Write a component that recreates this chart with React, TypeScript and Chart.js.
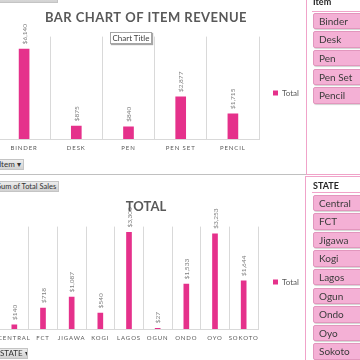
import React, { useEffect, useRef } from "react";
import { Chart, registerables } from "chart.js";

Chart.register(...registerables);

// ---------- data ----------
const itemCategories = ["BINDER", "DESK", "PEN", "PEN SET", "PENCIL"];
const itemRevenue = [6140, 875, 840, 2877, 1715];
const itemAxisMax = 7000;

const stateCategories = ["CENTRAL", "FCT", "JIGAWA", "KOGI", "LAGOS", "OGUN", "ONDO", "OYO", "SOKOTO"];
const stateTotals = [140, 718, 1087, 540, 3300, 27, 1533, 3253, 1644];
const stateAxisMax = 3500;

const itemSlicerItems = ["Binder", "Desk", "Pen", "Pen Set", "Pencil"];
const stateSlicerItems = ["Central", "FCT", "Jigawa", "Kogi", "Lagos", "Ogun", "Ondo", "Oyo", "Sokoto"];

const seriesName = "Total";
const topTitle = "BAR CHART OF ITEM REVENUE";
const bottomTitle = "TOTAL";

// ---------- styles ----------
const BAR = "#e5318b";
const GRID = "#d9d9d9";
const TEXT = "#595959";
const FONT = "Lato, 'Open Sans', sans-serif";

const valueLabels = {
  id: "valueLabels",
  beforeDraw(chart: any) {
    const ctx = chart.ctx;
    const meta = chart.getDatasetMeta(0);
    const vals = chart.data.datasets[0].data as number[];
    ctx.save();
    ctx.font = `6.5px ${FONT}`;
    ctx.fillStyle = "#7f7f7f";
    ctx.textAlign = "left";
    ctx.textBaseline = "middle";
    meta.data.forEach((el: any, i: number) => {
      ctx.save();
      ctx.translate(el.x + 0.5, el.y - 5);
      ctx.rotate(-Math.PI / 2);
      ctx.fillText("$" + vals[i].toLocaleString("en-US"), 0, 0);
      ctx.restore();
    });
    ctx.restore();
  },
};

type Cfg = {
  labels: string[];
  values: number[];
  max: number;
  title: string;
  titleSize: number;
  titleSpacing: string;
  titleCenter: number;
  titlePad: { top: number; bottom: number };
  padLeft: number;
  areaRight: number;
  legendPad: number;
  axisHeight: number;
  barThickness: number;
  tickSpacing: string;
};

function useBarChart(ref: React.RefObject<HTMLCanvasElement | null>, cfg: Cfg) {
  useEffect(() => {
    if (!ref.current) return;
    const chart = new Chart(ref.current, {
      type: "bar",
      data: {
        labels: cfg.labels,
        datasets: [
          {
            label: seriesName,
            data: cfg.values,
            backgroundColor: BAR,
            barThickness: cfg.barThickness,
          },
        ],
      },
      options: {
        responsive: false,
        animation: false,
        layout: { padding: { left: cfg.padLeft, right: 0, top: 0, bottom: 0 } },
        plugins: {
          title: {
            display: true,
            text: cfg.title,
            color: TEXT,
            font: { family: FONT, size: cfg.titleSize, weight: "bold" },
            padding: cfg.titlePad,
          },
          legend: {
            position: "right",
            labels: {
              boxWidth: 5,
              boxHeight: 5,
              padding: cfg.legendPad,
              color: TEXT,
              font: { family: FONT, size: 8 },
            },
          },
          tooltip: { enabled: false },
        },
        scales: {
          x: {
            grid: { color: GRID, drawTicks: false, offset: true },
            border: { color: GRID },
            ticks: {
              color: TEXT,
              font: { family: FONT, size: 6 },
              padding: 5,
              autoSkip: false,
              maxRotation: 0,
            },
            afterFit: (s: any) => {
              s.height = cfg.axisHeight;
            },
          },
          y: { display: false, min: 0, max: cfg.max },
        },
      },
      plugins: [valueLabels],
    } as any);

    // fit the plot area's right edge by the legend's measured width
    const extra = chart.chartArea.right - cfg.areaRight;
    (chart.options as any).layout.padding = { left: cfg.padLeft, right: Math.max(0, extra), top: 0, bottom: 0 };
    chart.update();

    const xs: any = chart.scales.x;
    const origLabels = xs.drawLabels.bind(xs);
    xs.drawLabels = (area: any) => {
      const c: any = chart.ctx;
      const prev = c.letterSpacing;
      c.letterSpacing = cfg.tickSpacing;
      origLabels(area);
      c.letterSpacing = prev;
    };
    const tb: any = (chart as any).titleBlock;
    if (tb) {
      const origT = tb.draw.bind(tb);
      tb.draw = (area: any) => {
        const c: any = chart.ctx;
        const prev = c.letterSpacing;
        c.save();
        c.letterSpacing = cfg.titleSpacing;
        c.translate(cfg.titleCenter - (tb.left + tb.right) / 2, 0);
        origT(area);
        c.restore();
        c.letterSpacing = prev;
      };
    }
    chart.draw();
    return () => chart.destroy();
  }, []);
}

const btnStyle: React.CSSProperties = {
  position: "absolute",
  background: "linear-gradient(#ececec, #d2d2d2)",
  border: "1px solid #c4c4c4",
  fontFamily: FONT,
  fontSize: 8,
  color: "#333",
  lineHeight: "9px",
  whiteSpace: "nowrap",
  overflow: "hidden",
  boxSizing: "border-box",
};

function Slicer(props: { left: number; top: number; height: number; header: string; headerTop: number; lineTop: number; btnTop: number; items: string[] }) {
  return (
    <>
      <div
        style={{
          position: "absolute",
          left: props.left,
          top: props.top,
          width: 70,
          height: props.height,
          border: "1.5px solid #f0a3c9",
          boxSizing: "border-box",
          background: "#fff",
        }}
      />
      <div
        style={{
          position: "absolute",
          left: 313,
          top: props.headerTop,
          fontFamily: FONT,
          fontWeight: "bold",
          fontSize: 9,
          color: "#262626",
          lineHeight: "11px",
        }}
      >
        {props.header}
      </div>
      <div style={{ position: "absolute", left: 312, top: props.lineTop, width: 60, height: 1, background: "#f0a3c9" }} />
      {props.items.map((t, i) => (
        <div
          key={t}
          style={{
            position: "absolute",
            left: 313,
            top: props.btnTop + i * 18.6,
            width: 60,
            height: 16.5,
            background: "#f4b0d5",
            border: "1px solid #e296bd",
            borderRadius: 2,
            boxShadow: "1px 1px 1px rgba(0,0,0,0.18)",
            boxSizing: "border-box",
            fontFamily: FONT,
            fontSize: 10,
            color: "#3b3b3b",
            lineHeight: "14px",
            paddingLeft: 5,
          }}
        >
          {t}
        </div>
      ))}
    </>
  );
}

export default function App() {
  const topRef = useRef<HTMLCanvasElement>(null);
  const botRef = useRef<HTMLCanvasElement>(null);

  useBarChart(topRef, {
    labels: itemCategories,
    values: itemRevenue,
    max: itemAxisMax,
    title: topTitle,
    titleSize: 13,
    titleSpacing: "0.45px",
    titleCenter: 156,
    titlePad: { top: 10, bottom: 11 },
    padLeft: 8,
    areaRight: 269,
    legendPad: 14,
    axisHeight: 47,
    barThickness: 10,
    tickSpacing: "0.9px",
  });

  useBarChart(botRef, {
    labels: stateCategories,
    values: stateTotals,
    max: stateAxisMax,
    title: bottomTitle,
    titleSize: 13,
    titleSpacing: "0px",
    titleCenter: 156,
    titlePad: { top: 23, bottom: 12 },
    padLeft: 10,
    areaRight: 268,
    legendPad: 15,
    axisHeight: 59,
    barThickness: 5,
    tickSpacing: "0.9px",
  });

  return (
    <div
      style={{
        position: "fixed",
        left: 0,
        top: 0,
        width: 360,
        height: 360,
        overflow: "hidden",
        background: "#fff",
      }}
    >
      {/* top pivot chart */}
      <canvas ref={topRef} width={330} height={186} style={{ position: "absolute", left: -10, top: 0 }} />
      {/* bottom pivot chart */}
      <canvas ref={botRef} width={330} height={212} style={{ position: "absolute", left: -10, top: 176 }} />

      {/* pivot field buttons */}
      <div style={{ ...btnStyle, left: -2, top: -10, width: 60, height: 13 }} />
      <div style={{ ...btnStyle, left: -4, top: 159, width: 28, height: 11, paddingLeft: 2 }}>Item ▾</div>
      <div style={{ position: "absolute", left: 0, top: 174, width: 306, height: 1, background: "#c0c0c0" }} />
      <div style={{ ...btnStyle, left: -5, top: 181, width: 64, height: 11, paddingLeft: 1, fontSize: 7.5 }}>Sum of Total Sales</div>
      <div style={{ ...btnStyle, left: -3, top: 348, width: 31, height: 11, paddingLeft: 2 }}>STATE ▾</div>

      {/* "Chart Title" hover tip */}
      <div
        style={{
          position: "absolute",
          left: 110,
          top: 32,
          width: 42,
          height: 12,
          background: "#fff",
          border: "1px solid #a6a6a6",
          boxShadow: "1px 1px 1px rgba(0,0,0,0.35)",
          boxSizing: "border-box",
          fontFamily: FONT,
          fontSize: 8,
          color: "#404040",
          lineHeight: "10px",
          textAlign: "center",
          whiteSpace: "nowrap",
        }}
      >
        Chart Title
      </div>

      {/* slicers */}
      <Slicer left={306} top={-6} height={181} header="Item" headerTop={-4} lineTop={10.5} btnTop={12.7} items={itemSlicerItems} />
      <Slicer left={305} top={176} height={200} header="STATE" headerTop={180} lineTop={192} btnTop={194.5} items={stateSlicerItems} />
    </div>
  );
}
